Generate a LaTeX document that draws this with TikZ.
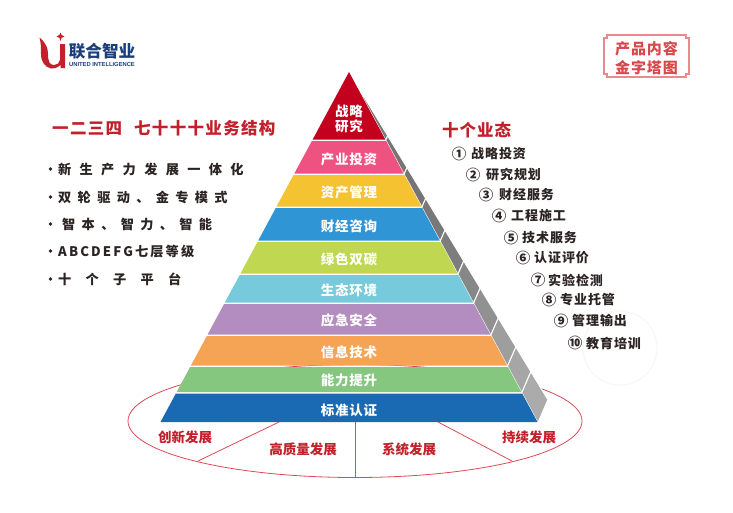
\documentclass[tikz,border=0pt]{standalone}
\usepackage{fontspec}
\setmainfont{Noto Sans CJK SC}
\newfontfamily\latinsmall{Liberation Sans}
\definecolor{titlered}{HTML}{C2212B}
\definecolor{lineRed}{HTML}{DC4A58}
\definecolor{inkdark}{HTML}{2B2422}
\definecolor{logoblue}{HTML}{1C3F7C}
\definecolor{framepink}{HTML}{E98A8C}
\definecolor{framered}{HTML}{D9474C}
\definecolor{bandA}{HTML}{C4001F}
\definecolor{bandB}{HTML}{EE5280}
\definecolor{bandC}{HTML}{F5C232}
\definecolor{bandD}{HTML}{2F95D4}
\definecolor{bandE}{HTML}{BFD751}
\definecolor{bandF}{HTML}{76CADB}
\definecolor{bandG}{HTML}{B38DC0}
\definecolor{bandH}{HTML}{F5A455}
\definecolor{bandI}{HTML}{86C780}
\definecolor{bandJ}{HTML}{1A6AB3}
\tikzset{
  bandlabel/.style={text=white,font=\fontsize{13.5}{15}\selectfont\bfseries\addfontfeature{LetterSpace=6},inner sep=0pt,align=center},
  seglabel/.style={text=titlered,font=\fontsize{13.5}{15}\selectfont\bfseries,inner sep=0pt},
  heading/.style={text=titlered,inner sep=0pt,anchor=west},
  bulletline/.style={text=inkdark,anchor=west,inner sep=0pt},
  listnum/.style={text=inkdark,font=\fontsize{14.5}{15}\selectfont\bfseries,inner sep=0pt},
  listtext/.style={text=inkdark,anchor=west,inner sep=0pt,font=\fontsize{13}{15}\selectfont\bfseries\addfontfeature{LetterSpace=7}},
  divider/.style={draw=lineRed,line width=0.8pt},
}
\newcommand\pyrband[7]{%
  \pgfmathsetmacro\sa{(#2-72)/350}%
  \pgfmathsetmacro\sb{(#3-72)/350}%
  \pgfmathsetmacro\ga{max(#2-0.75-72,0)/350}%
  \pgfmathsetmacro\gb{(#3+0.75-72)/350}%
  \pgfmathsetmacro\xla{349-188.5*\sa}%
  \pgfmathsetmacro\xra{349+188.5*\sa}%
  \pgfmathsetmacro\xlb{349-188.5*\sb}%
  \pgfmathsetmacro\xrb{349+188.5*\sb}%
  \pgfmathsetmacro\gxa{349+188.5*\ga}%
  \pgfmathsetmacro\gya{72+350*\ga}%
  \pgfmathsetmacro\gxb{349+188.5*\gb}%
  \pgfmathsetmacro\gyb{72+350*\gb}%
  \pgfmathsetmacro\oxa{\gxa+10*\ga}%
  \pgfmathsetmacro\oya{\gya-23*\ga}%
  \pgfmathsetmacro\oxb{\gxb+10*\gb}%
  \pgfmathsetmacro\oyb{\gyb-23*\gb}%
  \filldraw[draw=white,line width=1pt,fill=black!#5] (\gxa,\gya) -- (\gxb,\gyb) -- (\oxb,\oyb) -- (\oxa,\oya) -- cycle;
  \fill[#4] (\xla,#2) -- (\xra,#2) -- (\xrb,#3) -- (\xlb,#3) -- cycle;
  \node[bandlabel] (#1) at (349,#7) {#6};
}
\newcommand\listitem[6]{%
  \node[listnum] (#1n) at (#2,#3) {#4};
  \node[listtext] (#1t) at (#5,#3) {#6};
}
\newcommand\bulletitem[4]{%
  \fill[inkdark] (50.5,#2) circle (1.9);
  \node[bulletline,font=\fontsize{13.2}{15}\selectfont\bfseries\addfontfeature{LetterSpace=#3}] (#1) at (58,#2+0.5) {#4};
}
\begin{document}
\begin{tikzpicture}[x=1pt,y=-1pt]
\useasboundingbox (0,0) rectangle (733,512);
\fill[white] (0,0) rectangle (733,512);
% logo
\fill[titlered] (39.5,37.5) .. controls (46,43) and (48,48) .. (48,54) .. controls (48,62) and (50,65) .. (54,65) .. controls (57,65) and (60,63) .. (60,60) -- (60,44) -- (65,44) -- (65,68) -- (60.5,68) -- (60.5,65) .. controls (57,68) and (54,69) .. (51,68.5) .. controls (45,67) and (41,62) .. (41,54) .. controls (41,48) and (41,43) .. (39.5,37.5) -- cycle;
\fill[titlered] (60.5,32.5) -- (61.6,35) -- (64.5,36.5) -- (61.6,37.8) -- (60.5,41) -- (59.4,37.8) -- (56.5,36.5) -- (59.4,35) -- cycle;
\node[inner sep=0pt,text=logoblue,font=\fontsize{16.6}{17}\selectfont\bfseries] (logoname) at (102,51) {联合智业};
\node[inner sep=0pt,text=logoblue,font=\latinsmall\fontsize{5.8}{6}\selectfont\bfseries] (logosub) at (102,64.5) {UNITED INTELLIGENCE};
% frame
\draw[framepink,line width=1.3pt] (607,35) -- (686,35) -- (686,38) -- (689,38) -- (689,74) -- (686,74) -- (686,77) -- (607,77) -- (607,74) -- (604,74) -- (604,38) -- (607,38) -- cycle;
\node[inner sep=0pt,text=framered,align=center,font=\fontsize{15}{19}\selectfont\bfseries\addfontfeature{LetterSpace=6}] (framelabel) at (646.5,58.5) {产品内容\\金字塔图};
% faint circle
\filldraw[draw=black!2.5,line width=1.5pt,fill=white] (620,348) circle (37);
% ellipse
\draw[divider] (355,421) ellipse [x radius=227,y radius=56.5];
\coordinate (ctopl) at (279,422);
\coordinate (cbotl) at (198,461);
\coordinate (ctopm) at (355,422);
\coordinate (cbotm) at (355,477.5);
\coordinate (ctopr) at (438,422);
\coordinate (cbotr) at (512,461);
\draw[divider] (ctopl) -- (cbotl);
\draw[divider] (ctopm) -- (cbotm);
\draw[divider] (ctopr) -- (cbotr);
% pyramid
\pyrband{bA}{72}{139.5}{bandA}{53}{战略\\研究}{119}
\pyrband{bB}{141}{173.5}{bandB}{54}{产业投资}{159.8}
\pyrband{bC}{175}{206.5}{bandC}{54}{资产管理}{192.3}
\pyrband{bD}{208}{240.5}{bandD}{53}{财经咨询}{226}
\pyrband{bE}{242}{273.5}{bandE}{51}{绿色双碳}{259}
\pyrband{bF}{275}{302.5}{bandF}{47}{生态环境}{290}
\pyrband{bG}{304}{334.5}{bandG}{43}{应急安全}{320.5}
\pyrband{bH}{336}{365.5}{bandH}{38}{信息技术}{352}
\pyrband{bI}{367}{392}{bandI}{35}{能力提升}{380.5}
\pyrband{bJ}{393.5}{422}{bandJ}{33}{标准认证}{410}
% ground labels
\node[seglabel] (s1) at (185,437) {创新发展};
\node[seglabel] (s2) at (303,449) {高质量发展};
\node[seglabel] (s3) at (409,449) {系统发展};
\node[seglabel] (s4) at (529,437) {持续发展};
% left text
\node[heading,font=\fontsize{16.5}{18}\selectfont\bfseries\addfontfeature{LetterSpace=8}] (lefthead) at (52,128) {一二三四\hspace{12pt}七十十十业务结构};
\bulletitem{l1}{169}{63}{新生产力发展一体化}
\bulletitem{l2}{197}{48}{双轮驱动、金专模式}
\bulletitem{l3}{224}{48}{\hspace{4pt}智本、智力、智能}
\bulletitem{l4}{251}{16}{ABCDEFG七层等级}
\bulletitem{l5}{279}{108}{十个子平台}
% right text
\node[heading,font=\fontsize{16.5}{18}\selectfont\bfseries\addfontfeature{LetterSpace=6}] (righthead) at (442,130) {十个业态};
\listitem{r1}{459}{154}{①}{471}{战略投资}
\listitem{r2}{473}{175}{②}{486}{研究规划}
\listitem{r3}{486}{195}{③}{499}{财经服务}
\listitem{r4}{499}{216}{④}{511}{工程施工}
\listitem{r5}{511}{238}{⑤}{522}{技术服务}
\listitem{r6}{523}{258}{⑥}{534}{认证评价}
\listitem{r7}{538}{280}{⑦}{548}{实验检测}
\listitem{r8}{549}{300}{⑧}{560}{专业托管}
\listitem{r9}{561}{321}{⑨}{572}{管理输出}
\listitem{r10}{575}{343}{⑩}{586}{教育培训}
\end{tikzpicture}
\end{document}
